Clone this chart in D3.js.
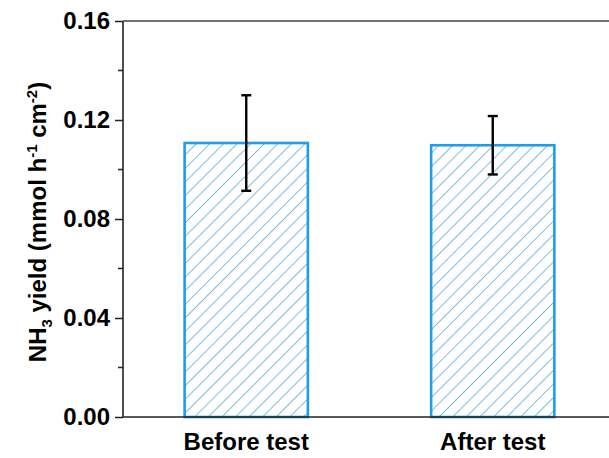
<!DOCTYPE html>
<html>
<head>
<meta charset="utf-8">
<script src="https://cdn.jsdelivr.net/npm/d3@7"></script>
<style>
  html, body { margin: 0; padding: 0; background: #fff; }
  svg { display: block; }
  text { font-family: "Liberation Sans", Arial, sans-serif; font-weight: bold; fill: #000; }
</style>
</head>
<body>
<script>
// NH3 yield before and after the stability test
const categories = ["Before test", "After test"];
const yieldValues = [0.1107, 0.1098];
const yieldErrors = [0.0193, 0.0118];
const yTicks = [0.00, 0.04, 0.08, 0.12, 0.16];
const yMinorTicks = [0.02, 0.06, 0.10, 0.14];

const W = 609, H = 458;
const margin = { left: 123, top: 21, right: -7, bottom: 41 };

const svg = d3.select("body").append("svg")
  .attr("width", W).attr("height", H);

const x = d3.scaleBand()
  .domain(categories)
  .range([margin.left, W - margin.right])
  .paddingInner(0.5)
  .paddingOuter(0.25);

const y = d3.scaleLinear()
  .domain([0, 0.16])
  .range([H - margin.bottom, margin.top]);

// diagonal "/" hatch pattern for bar fill
const defs = svg.append("defs");
const pat = defs.append("pattern")
  .attr("id", "hatch")
  .attr("patternUnits", "userSpaceOnUse")
  .attr("width", 9.6).attr("height", 9.6)
  .attr("patternTransform", "rotate(45)");
pat.append("line")
  .attr("x1", 0).attr("y1", 0).attr("x2", 0).attr("y2", 9.6)
  .attr("stroke", "#4d9fcf").attr("stroke-width", 1.4);

// bars
svg.append("g").selectAll("rect")
  .data(categories)
  .join("rect")
  .attr("x", d => x(d))
  .attr("y", (d, i) => y(yieldValues[i]))
  .attr("width", x.bandwidth())
  .attr("height", (d, i) => y(0) - y(yieldValues[i]))
  .attr("fill", "url(#hatch)")
  .attr("stroke", "#1e9de8")
  .attr("stroke-width", 2.6);

// error bars
const eb = svg.append("g").attr("stroke", "#000").attr("stroke-width", 2.4);
categories.forEach((c, i) => {
  const cx = x(c) + x.bandwidth() / 2;
  const hi = y(yieldValues[i] + yieldErrors[i]);
  const lo = y(yieldValues[i] - yieldErrors[i]);
  eb.append("line").attr("x1", cx).attr("x2", cx).attr("y1", hi).attr("y2", lo);
  eb.append("line").attr("x1", cx - 5).attr("x2", cx + 5).attr("y1", hi).attr("y2", hi);
  eb.append("line").attr("x1", cx - 5).attr("x2", cx + 5).attr("y1", lo).attr("y2", lo);
});

// y axis with major and minor ticks
const yAxis = svg.append("g")
  .attr("transform", `translate(${margin.left},0)`)
  .call(d3.axisLeft(y).tickValues(yTicks).tickFormat(d3.format(".2f")).tickSize(8).tickPadding(5));
yAxis.select(".domain").remove();
yAxis.selectAll(".tick line").attr("stroke", "#222").attr("stroke-width", 1.5);
yAxis.selectAll(".tick text")
  .style("font-size", "24px")
  .style("font-family", '"Liberation Sans", Arial, sans-serif')
  .style("font-weight", "bold")
  .attr("fill", "#000");

svg.append("g").selectAll("line")
  .data(yMinorTicks)
  .join("line")
  .attr("x1", margin.left - 5).attr("x2", margin.left)
  .attr("y1", d => y(d)).attr("y2", d => y(d))
  .attr("stroke", "#222").attr("stroke-width", 1.5);

// frame lines: left, top, bottom
svg.append("line")
  .attr("x1", margin.left).attr("x2", margin.left)
  .attr("y1", y(0.16)).attr("y2", y(0))
  .attr("stroke", "#222").attr("stroke-width", 1.6);
svg.append("line")
  .attr("x1", margin.left).attr("x2", W)
  .attr("y1", y(0.16)).attr("y2", y(0.16))
  .attr("stroke", "#444").attr("stroke-width", 1.6);
svg.append("line")
  .attr("x1", margin.left).attr("x2", W)
  .attr("y1", y(0)).attr("y2", y(0))
  .attr("stroke", "#222").attr("stroke-width", 1.6);

// x category labels
svg.append("g").selectAll("text")
  .data(categories)
  .join("text")
  .attr("x", d => x(d) + x.bandwidth() / 2)
  .attr("y", 450)
  .attr("text-anchor", "middle")
  .style("font-size", "24px")
  .text(d => d);

// y axis title with sub/superscripts
const title = svg.append("text")
  .attr("transform", `translate(46,222) rotate(-90)`)
  .attr("text-anchor", "middle")
  .style("font-size", "24px");
title.append("tspan").text("NH");
title.append("tspan").attr("dy", 6).style("font-size", "15px").text("3");
title.append("tspan").attr("dy", -6).text(" yield (mmol h");
title.append("tspan").attr("dy", -9).style("font-size", "15px").text("-1");
title.append("tspan").attr("dy", 9).text(" cm");
title.append("tspan").attr("dy", -9).style("font-size", "15px").text("-2");
title.append("tspan").attr("dy", 9).text(")");
</script>
</body>
</html>
